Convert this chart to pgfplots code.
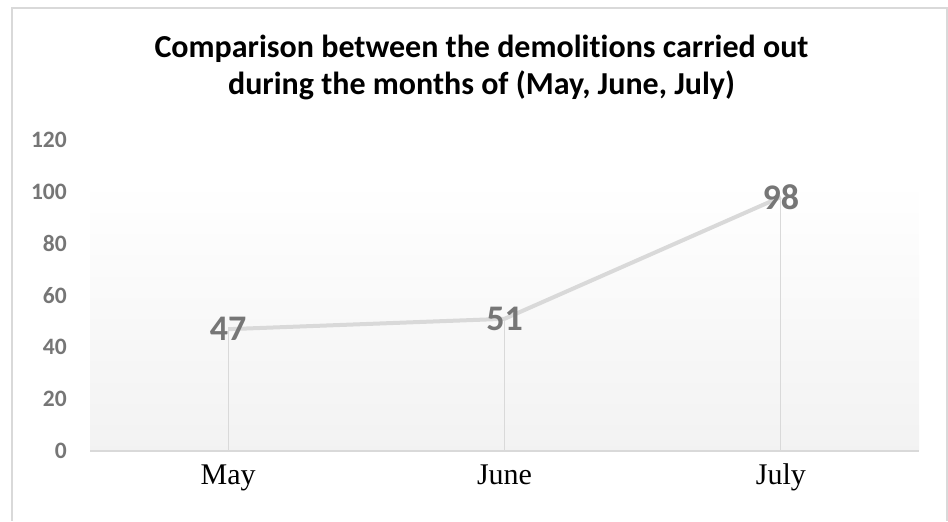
\documentclass[border=0pt]{standalone}
\usepackage{fontspec}
\setmainfont{Liberation Serif}
\newfontfamily\calibri[Ligatures=NoCommon]{Carlito}
\usepackage{pgfplots}
\pgfplotsset{compat=1.18}
\definecolor{linegray}{HTML}{D9D9D9}
\definecolor{labgray}{HTML}{767676}
\definecolor{bordergray}{HTML}{D9D9D9}
\begin{document}
\begin{tikzpicture}
\path (0pt,0pt) rectangle (948pt,521pt);
% chart frame
\draw[bordergray, line width=1.2pt] (12pt,0pt) -- (12pt,513pt) -- (947pt,513pt) -- (947pt,0pt);
% title
\node[anchor=base, font=\calibri\bfseries\fontsize{32}{32}\selectfont] at (481.5pt,463pt) {Comparison between the demolitions carried out};
\node[anchor=base, font=\calibri\bfseries\fontsize{32}{32}\selectfont] at (481.5pt,426pt) {during the months of (May, June, July)};
\begin{axis}[at={(90pt,70pt)}, anchor=south west, width=829pt, height=311pt, scale only axis,
  set layers,
  xmin=-0.5, xmax=2.5, ymin=0, ymax=120,
  xtick={0,1,2}, xticklabels={May,June,July},
  ytick={0,20,...,120},
  major tick length=0pt,
  axis line style={draw=none},
  /pgf/number format/assume math mode=true,
  xticklabel style={font=\fontsize{30}{30}\selectfont, text=black, anchor=base, inner sep=0pt, yshift=-34pt},
  yticklabel style={font=\calibri\bfseries\fontsize{23.5}{23.5}\selectfont, text=labgray, anchor=east, inner sep=0pt, xshift=-23pt},
  clip=false]
\begin{pgfonlayer}{axis background}
\fill[top color=white, bottom color=black!5] (axis cs:-0.5,0) rectangle (axis cs:2.5,104.2);
\draw[linegray, line width=1.5pt] (axis cs:-0.5,0) -- (axis cs:2.5,0);
\end{pgfonlayer}
% drop lines
\addplot[ycomb, linegray, line width=1.3pt, mark=none] coordinates {(0,47) (1,51) (2,98)};
% series with data labels
\addplot[linegray, line width=4pt, mark=none,
  nodes near coords,
  every node near coord/.append style={anchor=center, inner sep=0pt, text=labgray,
    font=\calibri\bfseries\fontsize{36}{36}\selectfont}]
  coordinates {(0,47) (1,51) (2,98)};
\end{axis}
\end{tikzpicture}
\end{document}
